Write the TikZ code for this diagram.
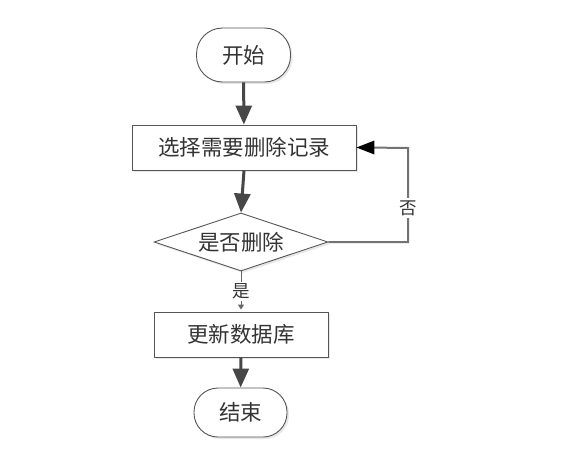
\documentclass[tikz,border=0pt]{standalone}
\usepackage{fontspec}
\newfontfamily\cjk{Noto Sans CJK SC}
\usetikzlibrary{arrows.meta,shapes.geometric,shadows}
\definecolor{edge}{HTML}{555555}
\definecolor{txt}{HTML}{333333}
\begin{document}
\begin{tikzpicture}[x=1pt,y=-1pt,
  base/.style={draw=edge,line width=0.9pt,fill=white,font=\cjk\fontsize{21.5}{22}\selectfont,text=txt,inner sep=0pt,
    general shadow={shadow xshift=2pt,shadow yshift=-2pt,fill=gray!18}},
  term/.style={base,minimum width=94pt,minimum height=54pt,rounded corners=26pt},
  procbox/.style={base,rectangle},
  decision/.style={base,diamond,aspect=3,minimum width=174pt,minimum height=58pt},
  thick arrow/.style={draw=black!72,line width=3pt,-{Triangle[width=16pt,length=19pt]}},
  loop arrow/.style={draw=black!55,line width=2pt},
  lbl/.style={font=\cjk\fontsize{17.5}{18}\selectfont,text=txt,fill=white,inner sep=2pt}]
\useasboundingbox (0,0) rectangle (583,450);
\node[term] (start) at (243.5,55) {开始};
\node[procbox,minimum width=224pt,minimum height=45pt] (sel) at (244,147.5) {选择需要删除记录};
\node[decision] (dec) at (241,242) {是否删除};
\node[procbox,minimum width=174pt,minimum height=45pt] (upd) at (241,334.5) {更新数据库};
\node[term,minimum width=93pt,minimum height=49pt,rounded corners=24pt] (end) at (240.5,412.5) {结束};
\coordinate (c1) at (408,242);
\coordinate (c2) at (408,148);
\draw[thick arrow] (start) -- (sel);
\draw[thick arrow] (sel.south) -- (dec.north);
\draw[thick arrow] (upd) -- (end);
\draw[draw=black!60,line width=1pt,-{Triangle[width=6pt,length=5pt]},shorten >=2pt] (dec.south) -- node[lbl,pos=0.5] (yes) {是} (upd.north);
\draw[loop arrow] (dec.east) -- (c1) -- (c2) -- ([xshift=10pt]sel.east);
\draw[fill=black,draw=none] (sel.east) -- ++(18,-7) -- ++(0,14) -- cycle;
\node[lbl] (no) at (408,208) {否};
\end{tikzpicture}
\end{document}
